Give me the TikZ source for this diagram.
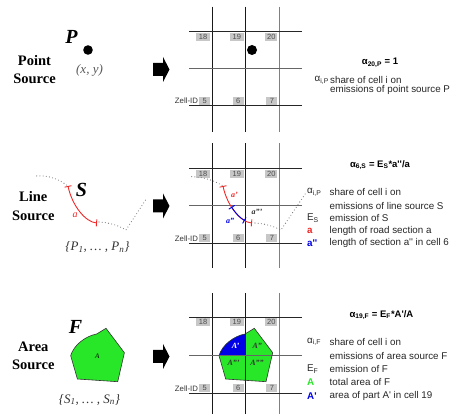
\documentclass[tikz,border=0pt]{standalone}
\usepackage{fontspec}
\setmainfont{Liberation Serif}
\newfontfamily\arialf{Liberation Sans}
\usetikzlibrary{arrows.meta}
\definecolor{pgreen}{RGB}{40,230,40}
\definecolor{pblue}{RGB}{0,0,230}
\definecolor{pred}{RGB}{240,40,40}
\newcommand\cellgrid[6]{%
 \draw[gridv] (212,#2) -- (212,#3);
 \draw[gridv] (245.7,#2) -- (245.7,#3);
 \draw[gridvl] (279.3,#2) -- (279.3,#3);
 \draw[gridh] (189,#4) -- (302,#4);
 \draw[gridhm] (189,#5) -- (302,#5);
 \draw[gridh] (189,#6) -- (302,#6);
 \node[cellbox,minimum width=14pt,anchor=north east] (#1c18) at (210.3,#4+0.6) {18};
 \node[cellbox,minimum width=14pt,anchor=north east] (#1c19) at (244,#4+0.6) {19};
 \node[cellbox,minimum width=12pt,anchor=north east] (#1c20) at (277.6,#4+0.6) {20};
 \node[cellbox,minimum width=11pt,anchor=south east] (#1c5) at (210.3,#6-0.8) {5};
 \node[cellbox,minimum width=11pt,anchor=south east] (#1c6) at (244,#6-0.8) {6};
 \node[cellbox,minimum width=11pt,anchor=south east] (#1c7) at (277.6,#6-0.8) {7};
 \node[zell,anchor=east] (#1zell) at ([xshift=-0.8pt]#1c5.west) {Zell-ID};
}
\newcommand\blockarrow[2]{%
 \coordinate (#1) at (161,#2);
 \fill[black] (153,#2-6.5) -- (163,#2-6.5) -- (163,#2-12.5) -- (169.5,#2) -- (163,#2+12.5)
   -- (163,#2+6.5) -- (153,#2+6.5) -- cycle;
}
\begin{document}
\begin{tikzpicture}[x=1pt,y=-1pt,
  gridv/.style={line width=1pt,black!90},
  gridvl/.style={line width=1pt,black!50},
  gridh/.style={line width=1pt,black!85},
  gridhm/.style={line width=1pt,black!60},
  cellbox/.style={fill=black!22,font=\arialf\fontsize{7.5}{8}\selectfont,text=black!70,inner sep=0pt,minimum height=8pt},
  zell/.style={font=\arialf\fontsize{7.8}{8}\selectfont,text=black!80,inner sep=0pt},
  legend/.style={font=\arialf\fontsize{9.8}{10}\selectfont,anchor=west,inner sep=0pt,text=black!85},
  sym/.style={font=\arialf\fontsize{9.8}{10}\selectfont,anchor=west,inner sep=0pt,text=black!85},
  head/.style={font=\arialf\bfseries\fontsize{9.5}{10}\selectfont,inner sep=0pt},
  srclabel/.style={font=\bfseries\fontsize{14.5}{18.5}\selectfont,align=center,inner sep=0pt},
  bigletter/.style={font=\bfseries\itshape\fontsize{20}{20}\selectfont,inner sep=0pt},
  setlabel/.style={font=\itshape\fontsize{13}{13}\selectfont,inner sep=0pt,text=black!80},
  dotpath/.style={black!55,line width=1.1pt,line cap=round,dash pattern=on 0pt off 3.2pt},
  redsec/.style={pred,line width=0.9pt,{Bar[width=7pt]}-{Bar[width=7pt]}},
  bluesec/.style={pblue,line width=0.9pt,{Bar[width=7pt]}-{Bar[width=7pt]}},
  pent/.style={fill=pgreen,draw=black!80,line width=0.6pt},
  small/.style={font=\itshape\bfseries\fontsize{8}{8}\selectfont,inner sep=0pt}
]
\useasboundingbox (0,0) rectangle (456,414);
\fill[white] (0,0) rectangle (456,414);

% ---------- Point source ----------
\node[srclabel] (pt) at (34.5,69.5) {Point\\Source};
\node[bigletter] (P) at (71.5,37) {P};
\fill (88,50) circle (4.8);
\node[setlabel,text=black!65] (xy) at (89.5,70.5) {(x, y)};
\blockarrow{ar1}{69.5}
\cellgrid{t}{6.7}{132}{32}{69}{106}
\fill (252,50) circle (5);
\node[head] (h1) at (380,63) {α\textsubscript{20,P} = 1};
\node[sym] (s1) at (314.5,80.3) {α\textsubscript{i,P}};
\node[legend] (l1a) at (330,80.3) {share of cell i on};
\node[legend] (l1b) at (330,89.5) {emissions of point source P};

% ---------- Line source ----------
\node[srclabel] (ln) at (33.3,206) {Line\\Source};
\node[bigletter] (S) at (81.5,190) {S};
\draw[dotpath] (36.7,176) .. controls (50,175) and (60,180) .. (68,186);
\draw[redsec] (68,186) .. controls (72,205) and (85,222) .. (97,223);
\draw[dotpath] (99,222) .. controls (108,222.5) and (118,225) .. (126,230) -- (146.7,198.3);
\node[font=\itshape\fontsize{10}{10}\selectfont,text=pred,inner sep=0pt] (la) at (75,215) {a};
\node[setlabel] (pset) at (97.5,247) {\{P\textsubscript{1}, … , P\textsubscript{n}\}};
\blockarrow{ar2}{206}
\cellgrid{m}{143.3}{268}{169}{206}{243.3}
\draw[dotpath] (191.7,176.7) .. controls (205,177) and (215,181) .. (223,186);
\draw[redsec] (223,186) .. controls (227,205) and (240,222) .. (252,223);
\draw[bluesec] (231.5,206.9) .. controls (235.34,212.96) and (239.96,217.86) .. (244.76,220.6);
\draw[dotpath] (255,223) .. controls (264,223.5) and (273,226) .. (281,230) -- (306.7,191.7);
\node[small,text=pred] (ga1) at (234.5,195) {a'};
\node[small,text=pblue] (ga2) at (230,221) {a''};
\node[small,text=black!80] (ga3) at (257,211.5) {a'''};
\node[head] (h2) at (380,165) {α\textsubscript{6,S} = E\textsubscript{S}*a''/a};
\node[sym] (s2a) at (307,192.3) {α\textsubscript{i,P}};
\node[legend] (l2a) at (329.5,192.3) {share of cell i on};
\node[legend] (l2b) at (329.5,205.7) {emissions of line source S};
\node[sym] (s2c) at (307,218.3) {E\textsubscript{S}};
\node[legend] (l2c) at (329.5,218.3) {emission of S};
\node[sym,text=pred,font=\arialf\bfseries\fontsize{9.8}{10}\selectfont] (s2d) at (307,230.7) {a};
\node[legend] (l2d) at (329.5,230.7) {length of road section a};
\node[sym,text=pblue,font=\arialf\bfseries\fontsize{9.8}{10}\selectfont] (s2e) at (307,243.3) {a''};
\node[legend] (l2e) at (329.5,243.3) {length of section a'' in cell 6};

% ---------- Area source ----------
\node[srclabel] (ar) at (33.3,356) {Area\\Source};
\node[bigletter] (F) at (75.5,326.5) {F};
\begin{scope}[shift={(-148.3,0)}]
\draw[pent] (254.3,328.3) -- (272.7,352.7) -- (266,381.7) -- (225.7,379) -- (219,355.7)
   .. controls (222,345) and (234,336) .. (245,334) -- cycle;
\end{scope}
\node[font=\itshape\fontsize{7}{7}\selectfont,inner sep=0pt] (lA) at (97.3,356) {A};
\node[setlabel] (sset) at (89.5,399.5) {\{S\textsubscript{1}, … , S\textsubscript{n}\}};
\blockarrow{ar3}{356.5}
\cellgrid{b}{293.3}{414}{317.5}{355.7}{393.3}
\fill[pgreen] (254.3,328.3) -- (272.7,352.7) -- (266,381.7) -- (225.7,379) -- (219,355.7)
   .. controls (222,345) and (234,336) .. (245,334) -- cycle;
\begin{scope}
\clip (212,317.5) rectangle (245.7,355.7);
\fill[pblue] (254.3,328.3) -- (272.7,352.7) -- (266,381.7) -- (225.7,379) -- (219,355.7)
   .. controls (222,345) and (234,336) .. (245,334) -- cycle;
\end{scope}
\draw[gridv] (245.7,317.5) -- (245.7,393.3);
\draw[gridhm] (212,355.7) -- (279.3,355.7);
\draw[black!80,line width=0.6pt] (254.3,328.3) -- (272.7,352.7) -- (266,381.7) -- (225.7,379) -- (219,355.7)
   .. controls (222,345) and (234,336) .. (245,334) -- cycle;
\node[small,text=white] (gA1) at (235.5,345.5) {A'};
\node[small,text=black!80] (gA2) at (257.3,345.7) {A''};
\node[small,text=black!80] (gA3) at (233.5,363.3) {A'''};
\node[small,text=black!80] (gA4) at (257,363.3) {A''''};
\node[head] (h3) at (381.5,315) {α\textsubscript{19,F} = E\textsubscript{F}*A'/A};
\node[sym] (s3a) at (307,341.7) {α\textsubscript{i,F}};
\node[legend] (l3a) at (329.5,341.7) {share of cell i on};
\node[legend] (l3b) at (329.5,356) {emissions of area source F};
\node[sym] (s3c) at (307,369) {E\textsubscript{F}};
\node[legend] (l3c) at (329.5,369) {emission of F};
\node[sym,text=pgreen,font=\arialf\bfseries\fontsize{9.8}{10}\selectfont] (s3d) at (307,382.3) {A};
\node[legend] (l3d) at (329.5,382.3) {total area of F};
\node[sym,text=pblue,font=\arialf\bfseries\fontsize{9.8}{10}\selectfont] (s3e) at (307,396) {A'};
\node[legend] (l3e) at (329.5,396) {area of part A' in cell 19};
\end{tikzpicture}
\end{document}
